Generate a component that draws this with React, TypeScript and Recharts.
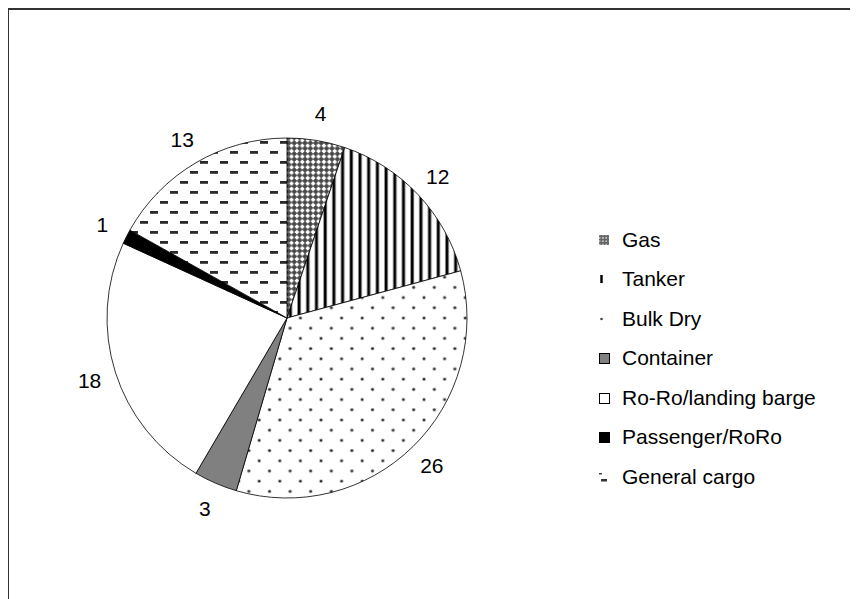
import React from 'react'
import { PieChart, Pie, Cell, Legend } from 'recharts'

const categories = ['Gas', 'Tanker', 'Bulk Dry', 'Container', 'Ro-Ro/landing barge', 'Passenger/RoRo', 'General cargo']
const counts = [4, 12, 26, 3, 18, 1, 13]
const fills = ['url(#pGas)', 'url(#pTanker)', 'url(#pBulk)', '#808080', '#ffffff', '#000000', 'url(#pGeneral)']

const data = categories.map((name, i) => ({ name, value: counts[i] }))

const FONT = '"Liberation Sans", Arial, sans-serif'
const RAD = Math.PI / 180

const renderLabel = (p: any) => {
  const r = p.outerRadius + 27
  const x = p.cx + r * Math.cos(-p.midAngle * RAD)
  const y = p.cy + r * Math.sin(-p.midAngle * RAD)
  return (
    <text x={x} y={y} textAnchor="middle" dominantBaseline="central" fontSize={21} fill="#000" fontFamily={FONT}>
      {p.value}
    </text>
  )
}

// small legend markers, roughly like the excel ones
const LegendIcon = ({ i }: { i: number }) => {
  return (
    <svg width={14} height={14} style={{ display: 'block' }}>
      {i === 0 && <rect x={1} y={2} width={10} height={10} fill="url(#pGasSmall)" />}
      {i === 1 && (
        <g>
          <rect x={2} y={3} width={3} height={8} fill="#888" />
          <rect x={2.5} y={3} width={2} height={8} fill="#000" />
        </g>
      )}
      {i === 2 && <circle cx={3.5} cy={7} r={1.3} fill="#444" />}
      {i === 3 && <rect x={1.5} y={2.5} width={10} height={10} fill="#808080" stroke="#000" strokeWidth={1} />}
      {i === 4 && <rect x={1.5} y={2.5} width={10} height={10} fill="#fff" stroke="#000" strokeWidth={1} />}
      {i === 5 && <rect x={1.5} y={2.5} width={10} height={10} fill="#000" stroke="#000" strokeWidth={1} />}
      {i === 6 && (
        <g>
          <rect x={1} y={3} width={3} height={1.5} fill="#444" />
          <rect x={3} y={9} width={6} height={2.5} fill="#333" />
        </g>
      )}
    </svg>
  )
}

const renderLegend = () => (
  <div style={{ fontFamily: FONT, fontSize: 21, color: '#000' }}>
    {categories.map((c, i) => (
      <div key={c} style={{ display: 'flex', alignItems: 'center', height: 39.5 }}>
        <div style={{ width: 24 }}>
          <LegendIcon i={i} />
        </div>
        <span style={{ lineHeight: '24px' }}>{c}</span>
      </div>
    ))}
  </div>
)

export default function App() {
  return (
    <div style={{ position: 'relative', width: 850, height: 591, overflow: 'hidden', background: '#fff' }}>
      <div
        style={{
          position: 'absolute',
          left: -1,
          top: 0,
          width: 960,
          height: 700,
          borderLeft: '2px solid #333',
          borderTop: '2px solid #333',
        }}
      />
      <svg width={0} height={0} style={{ position: 'absolute' }}>
        <defs>
          <pattern id="pGasSmall" patternUnits="userSpaceOnUse" width={3.3} height={3.3}>
            <rect width={3.3} height={3.3} fill="#666" />
            <rect x={1} y={1} width={1.3} height={1.3} fill="#fff" />
          </pattern>
        </defs>
      </svg>
      <div style={{ position: 'absolute', left: 0, top: 0 }}>
        <PieChart width={850} height={591} margin={{ top: 0, right: 0, bottom: 0, left: 0 }}>
          <defs>
            <pattern id="pGas" patternUnits="userSpaceOnUse" width={5.4} height={5.4}>
              <rect width={5.4} height={5.4} fill="#474747" />
              <rect x={1.7} y={0.7} width={2} height={4} fill="#fff" />
              <rect x={0.7} y={1.7} width={4} height={2} fill="#fff" />
            </pattern>
            <pattern id="pTanker" patternUnits="userSpaceOnUse" width={8.7} height={10}>
              <rect width={8.7} height={10} fill="#fff" />
              <rect x={2} y={0} width={4} height={10} fill="#999" />
              <rect x={2.8} y={0} width={2.4} height={10} fill="#000" />
            </pattern>
            <pattern id="pBulk" patternUnits="userSpaceOnUse" width={20.6} height={20.4}>
              <rect width={20.6} height={20.4} fill="#fff" />
              <circle cx={4} cy={4} r={1.9} fill="#aaa" />
              <circle cx={4} cy={4} r={1.2} fill="#222" />
              <circle cx={14.3} cy={14.2} r={1.9} fill="#aaa" />
              <circle cx={14.3} cy={14.2} r={1.2} fill="#222" />
            </pattern>
            <pattern id="pGeneral" patternUnits="userSpaceOnUse" width={20} height={20}>
              <rect width={20} height={20} fill="#fff" />
              <rect x={2} y={3} width={8} height={2.8} fill="#2a2a2a" />
              <rect x={12} y={13} width={8} height={2.8} fill="#2a2a2a" />
            </pattern>
          </defs>
          <Pie
            data={data}
            dataKey="value"
            nameKey="name"
            cx={279}
            cy={310}
            outerRadius={180}
            startAngle={90}
            endAngle={-270}
            stroke="#000"
            strokeWidth={0.8}
            label={renderLabel}
            labelLine={false}
            isAnimationActive={false}
          >
            {data.map((d, i) => (
              <Cell key={d.name} fill={fills[i]} />
            ))}
          </Pie>
          <Legend
            layout="vertical"
            content={renderLegend}
            wrapperStyle={{ left: 590, top: 212, width: 250 }}
          />
        </PieChart>
      </div>
    </div>
  )
}
